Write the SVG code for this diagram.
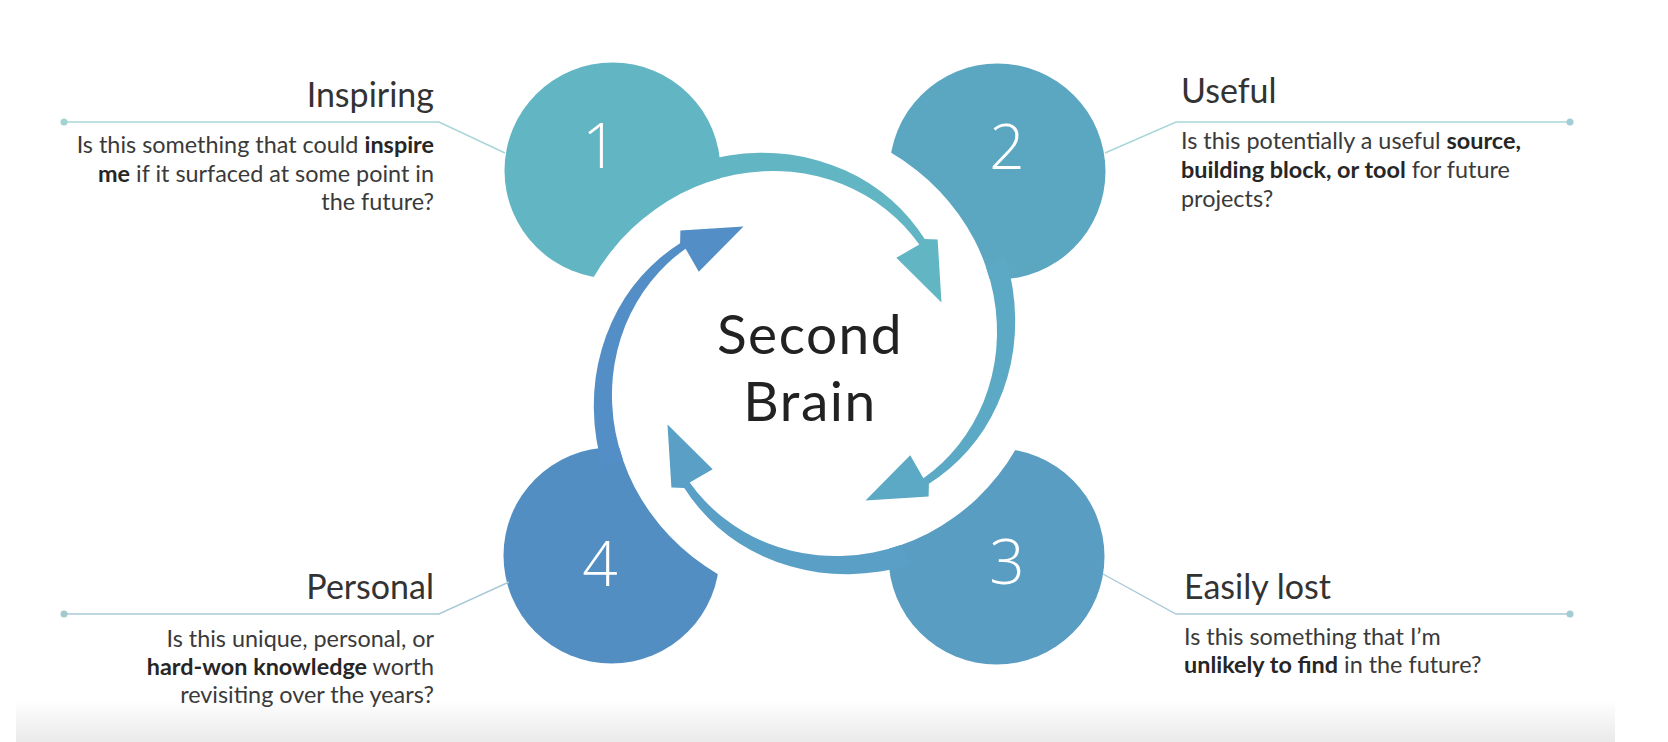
<svg xmlns="http://www.w3.org/2000/svg" xmlns:xlink="http://www.w3.org/1999/xlink" width="1668" height="742" viewBox="0 0 1668 742">
<style>
.title{font-family:Lato,"Liberation Sans",sans-serif;font-size:34px;fill:#333333}
.body{font-family:Lato,"Liberation Sans",sans-serif;font-size:23.4px;fill:#3a3a3a}
.b{font-weight:700;fill:#262626}
.num{font-family:"Open Sans","Noto Sans",sans-serif;font-weight:300;font-size:62px;fill:#ffffff;text-anchor:middle}
.center{font-family:Lato,"Open Sans",sans-serif;font-size:55px;letter-spacing:1.5px;fill:#222222;text-anchor:middle}
.lineT{stroke:#A8D6D6;stroke-width:1.4;fill:none}
.lineB{stroke:#A9C9D8;stroke-width:1.4;fill:none}
.cut{fill:#ffffff}
</style>
<defs>
<linearGradient id="floor" x1="0" y1="0" x2="0" y2="1">
<stop offset="0" stop-color="#ffffff"/>
<stop offset="1" stop-color="#eaeaea"/>
</linearGradient>
<path id="cutter" d="M0,0 L-218.9,-71.1 A229.1,229.1 0 0 1 -211.4,-85.4 A225.8,225.8 0 0 1 -193.6,-111.8 A221.3,221.3 0 0 1 -172.6,-134.9 A216.8,216.8 0 0 1 -149.0,-154.3 A212.3,212.3 0 0 1 -123.5,-170.0 A207.8,207.8 0 0 1 -96.5,-181.5 A203.4,203.4 0 0 1 -68.8,-189.0 A200,200 0 0 1 -54.8,-191.2 Z"/>
<path id="arrow" d="M-96.5,-181.5 A203.4,203.4 0 0 1 -68.8,-189.0 A198.9,198.9 0 0 1 -40.9,-192.3 A194.4,194.4 0 0 1 -13.4,-191.7 A189.9,189.9 0 0 1 13.1,-187.2 A185.4,185.4 0 0 1 38.1,-179.2 A181,181 0 0 1 61.1,-167.9 A176.5,176.5 0 0 1 81.8,-153.8 A172,172 0 0 1 99.8,-137.3 A167.5,167.5 0 0 1 114.8,-118.9 L91.8,-105.7 L137.0,-61.0 L133.1,-124.1 L120.2,-124.4 A176,176 0 0 0 105.2,-144.8 A182,182 0 0 0 86.9,-163.4 A188.2,188.2 0 0 0 65.4,-179.7 A194.2,194.2 0 0 0 41.0,-192.9 A200.3,200.3 0 0 0 14.2,-202.8 A206.4,206.4 0 0 0 -14.6,-208.9 A212.4,212.4 0 0 0 -44.8,-210.7 A218.5,218.5 0 0 0 -75.8,-208.1 A224.5,224.5 0 0 0 -106.8,-200.9 Z"/>
</defs>
<rect x="0" y="0" width="1668" height="742" fill="#ffffff"/>
<rect x="16" y="700" width="1599" height="42" fill="url(#floor)"/>

<g id="node-1">
<g transform="translate(804.5 363.5)">
<circle cx="-192" cy="-193" r="108" fill="#62B5C2"/>
<use xlink:href="#cutter" class="cut"/>
</g>
<text class="num" x="600" y="168">1</text>
<text class="title" x="434" y="107" text-anchor="end">Inspiring</text>
<text class="body" text-anchor="end"><tspan x="434" y="153">Is this something that could <tspan class="b">inspire</tspan></tspan><tspan x="434" y="182"><tspan class="b">me</tspan> if it surfaced at some point in</tspan><tspan x="434" y="210">the future?</tspan></text>
<polyline class="lineT" points="64,122 439,122 505,153"/>
<circle cx="64" cy="122" r="3.5" fill="#A3D3D0"/>
</g>

<g id="node-2">
<g transform="translate(804.5 363.5) rotate(90)">
<circle cx="-192" cy="-193" r="108" fill="#5BA7C2"/>
<use xlink:href="#cutter" class="cut"/>
</g>
<text class="num" x="1007" y="169">2</text>
<text class="title" x="1181" y="103">Useful</text>
<text class="body"><tspan x="1181" y="149">Is this potentially a useful <tspan class="b">source,</tspan></tspan><tspan x="1181" y="178"><tspan class="b">building block, or tool</tspan> for future</tspan><tspan x="1181" y="207">projects?</tspan></text>
<polyline class="lineT" points="1570,122 1176,122 1105,153"/>
<circle cx="1570" cy="122" r="3.5" fill="#A3CDD6"/>
</g>

<g id="node-3">
<g transform="translate(804.5 363.5) rotate(180)">
<circle cx="-192" cy="-193" r="108" fill="#5A9DC2"/>
<use xlink:href="#cutter" class="cut"/>
</g>
<text class="num" x="1007" y="584">3</text>
<text class="title" x="1184" y="599">Easily lost</text>
<text class="body"><tspan x="1184" y="645">Is this something that I’m</tspan><tspan x="1184" y="673"><tspan class="b">unlikely to find</tspan> in the future?</tspan></text>
<polyline class="lineB" points="1570,614 1176,614 1103,574"/>
<circle cx="1570" cy="614" r="3.5" fill="#A3CCD2"/>
</g>

<g id="node-4">
<g transform="translate(804.5 363.5) rotate(270)">
<circle cx="-192" cy="-193" r="108" fill="#538EC3"/>
<use xlink:href="#cutter" class="cut"/>
</g>
<text class="num" x="600" y="586">4</text>
<text class="title" x="434" y="599" text-anchor="end">Personal</text>
<text class="body" text-anchor="end"><tspan x="434" y="647">Is this unique, personal, or</tspan><tspan x="434" y="675"><tspan class="b">hard-won knowledge</tspan> worth</tspan><tspan x="434" y="703">revisiting over the years?</tspan></text>
<polyline class="lineB" points="64,614 439,614 509,582"/>
<circle cx="64" cy="614" r="3.5" fill="#A3C9CC"/>
</g>

<g id="connectors">
<use xlink:href="#arrow" transform="translate(804.5 363.5)" fill="#62B5C2"/>
<use xlink:href="#arrow" transform="translate(804.5 363.5) rotate(90)" fill="#5BA9C4"/>
<use xlink:href="#arrow" transform="translate(804.5 363.5) rotate(180)" fill="#599FC6"/>
<use xlink:href="#arrow" transform="translate(804.5 363.5) rotate(270)" fill="#538FC6"/>
</g>

<g id="center">
<text class="center"><tspan x="810" y="354">Second</tspan><tspan x="810" y="421">Brain</tspan></text>
</g>
</svg>
